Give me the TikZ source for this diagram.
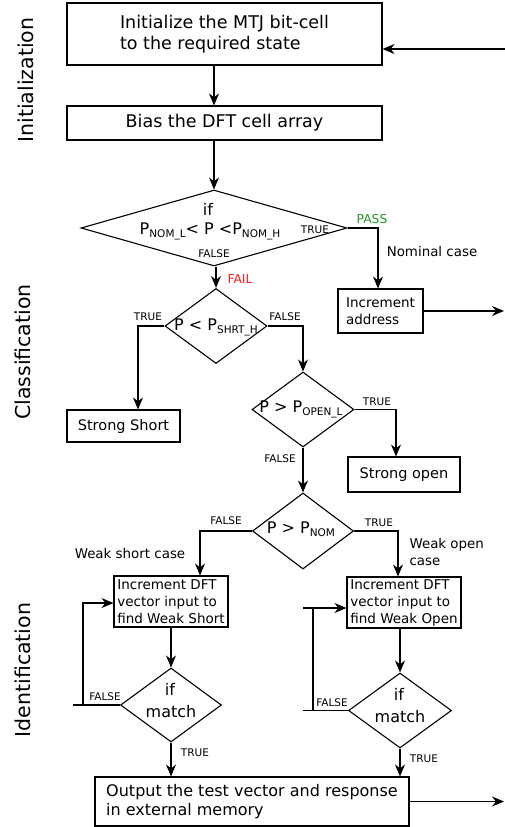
\documentclass[tikz,border=0pt]{standalone}
\usepackage{fontspec}
\setmainfont{DejaVu Sans}
\usetikzlibrary{shapes.geometric,arrows.meta,calc}
\definecolor{passgreen}{RGB}{40,150,40}
\definecolor{failred}{RGB}{250,30,30}
\newcommand\lowsub[1]{\raisebox{-3pt}{\fontsize{10.5}{12}\selectfont #1}}
\newcommand\fs[2]{\fontsize{#1}{#2}\selectfont}

\begin{document}
\begin{tikzpicture}[x=1pt,y=-1pt,
  line width=1.1pt,
  arr/.style={-{Stealth[length=12pt,width=10pt,inset=4pt]}},
  box/.style={draw,inner sep=0pt,align=left},
  dia/.style={draw,diamond,inner sep=0pt},
  tag/.style={inner sep=0pt,font=\fs{10.5}{12}},
  note/.style={inner sep=0pt,font=\fs{13.4}{17},align=left},
  cond/.style={inner sep=0pt,font=\fs{16}{19},anchor=base},
  phase/.style={rotate=90,anchor=base,inner sep=0pt,font=\fs{20.5}{24}}
]
\useasboundingbox (0,0) rectangle (505,827);

% phase titles on the left
\node[phase] (ph1) at (33,80) {Initialization};
\node[phase] (ph2) at (30,352) {Classification};
\node[phase] (ph3) at (30,670) {Identification};

% process boxes
\node[box,minimum width=315pt,minimum height=62pt,font=\fs{17.5}{21.5}] (init) at (224.5,34) {Initialize the MTJ bit-cell\\to the required state};
\node[box,minimum width=315pt,minimum height=34pt,font=\fs{17.5}{21}] (bias) at (224.5,123) {Bias the DFT cell array};
\node[box,minimum width=85pt,minimum height=44pt,font=\fs{13.5}{17}] (inc) at (380.5,311) {Increment\\address};
\node[box,minimum width=113pt,minimum height=32pt,font=\fs{14.5}{17}] (ss) at (123.5,426) {Strong Short};
\node[box,minimum width=112pt,minimum height=35pt,font=\fs{14.5}{17}] (so) at (404,474.5) {Strong open};
\node[box,minimum width=114pt,minimum height=51pt,font=\fs{13.5}{17}] (ws) at (171,601.5) {Increment DFT\\vector input to\\find Weak Short};
\node[box,minimum width=114pt,minimum height=51pt,font=\fs{13.5}{17}] (wo) at (404,602.5) {Increment DFT\\vector input to\\find Weak Open};
\node[box,minimum width=314pt,minimum height=49pt,font=\fs{16}{18.3}] (out) at (252,801.5) {Output the test vector and response\\in external memory};

% decisions
\node[dia,minimum width=266pt,minimum height=76pt] (d1) at (214,228) {};
\node[cond] (d1a) at (208,215) {if};
\node[cond] (d1b) at (210,234) {P\lowsub{NOM\_L}< P <P\lowsub{NOM\_H}};
\node[dia,minimum width=102pt,minimum height=75pt] (d2) at (216,326) {};
\node[cond] (d2a) at (216,330) {P < P\lowsub{SHRT\_H}};
\node[dia,minimum width=102pt,minimum height=75pt] (d3) at (303,409.5) {};
\node[cond] (d3a) at (301,412) {P > P\lowsub{OPEN\_L}};
\node[dia,minimum width=101pt,minimum height=76pt] (d4) at (303,531) {};
\node[cond] (d4a) at (301,533) {P > P\lowsub{NOM}};
\node[dia,minimum width=101pt,minimum height=74pt] (d5) at (171,705) {};
\node[cond] (d5a) at (170,695) {if};
\node[cond] (d5b) at (171,717) {match};
\node[dia,minimum width=103pt,minimum height=75pt] (d6) at (400,710.5) {};
\node[cond] (d6a) at (399,700) {if};
\node[cond] (d6b) at (400,722) {match};

% bend columns and free ends
\coordinate (passx) at (378,0);
\coordinate (ssx) at (138,0);
\coordinate (sox) at (396,0);
\coordinate (wsx) at (200,0);
\coordinate (wox) at (398,0);
\coordinate (wsv) at (83,603);
\coordinate (wsl) at (73,0);
\coordinate (wov) at (313,608);
\coordinate (wol) at (303,0);
\coordinate (back) at (505,49);
\coordinate (next) at (504,0);

% connectors
\draw[arr] (back) -- (back -| init.east);
\draw[arr] (init.south -| d1.north) -- (bias.north -| d1.north);
\draw[arr] (bias.south -| d1.north) -- (d1.north);
\draw[arr] (d1.east) -| (passx |- inc.north);
\draw[arr] (inc.east) -- (inc.east -| next);
\draw[arr] (d1.south -| d2.north) -- (d2.north);
\draw[arr] (d2.west) -| (ssx |- ss.north);
\draw[arr] (d2.east) -| (d3.north);
\draw[arr] (d3.east) -| (sox |- so.north);
\draw[arr] (d3.south) -- (d4.north);
\draw[arr] (d4.west) -| (wsx |- ws.north);
\draw[arr] (d4.east) -| (wox |- wo.north);
\draw[arr] (ws.south -| d5.north) -- (d5.north);
\draw[arr] (wo.south -| d6.north) -- (d6.north);
\draw[arr] (d5.south) -- (d5.south |- out.north);
\draw[arr] (d6.south) -- (d6.south |- out.north);
\draw[arr] (out.east) -- (out.east -| next);

% retry loops
\draw (d5.west) -- (d5.west -| wsl);
\draw[arr] (d5.west -| wsv) -- (wsv) -- (wsv -| ws.west);
\draw (d6.west) -- (d6.west -| wol);
\draw (d6.west -| wov) -- (wov);
\draw[arr] (wov -| wol) -- (wov -| wo.west);

% branch labels
\node[tag] (t1) at (315,230) {TRUE};
\node[tag] (f1) at (214,254) {FALSE};
\node[inner sep=0pt,font=\fs{12.3}{14},text=passgreen] (pass) at (372,219) {PASS};
\node[inner sep=0pt,font=\fs{12.3}{14},text=failred] (fail) at (240,279) {FAIL};
\node[note] (nom) at (432,252) {Nominal case};
\node[tag] (t2) at (148,317) {TRUE};
\node[tag] (f2) at (285,317) {FALSE};
\node[tag] (t3) at (377,402) {TRUE};
\node[tag] (f3) at (280,459) {FALSE};
\node[tag] (f4) at (226,521) {FALSE};
\node[tag] (t4) at (379,523) {TRUE};
\node[note] (wsc) at (130,553) {Weak short case};
\node[note,anchor=west] (woc) at (409,552) {Weak open\\case};
\node[tag] (f5) at (105,697) {FALSE};
\node[tag] (t5) at (195,753) {TRUE};
\node[tag] (f6) at (332,703) {FALSE};
\node[tag] (t6) at (424,759) {TRUE};
\end{tikzpicture}
\end{document}
